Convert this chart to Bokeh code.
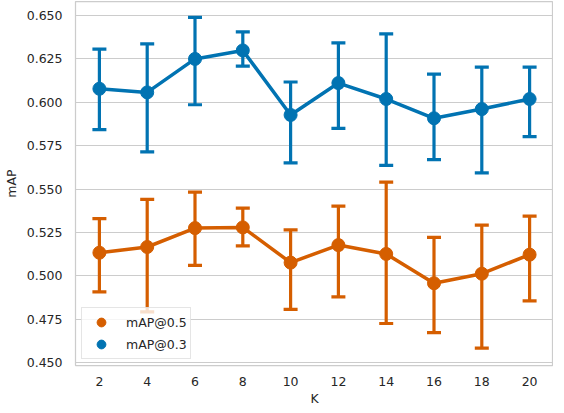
from bokeh.plotting import figure
from bokeh.models import Range1d, FixedTicker, NumeralTickFormatter, Legend, LegendItem
from bokeh.embed import file_html
from bokeh.resources import INLINE

K = [2, 4, 6, 8, 10, 12, 14, 16, 18, 20]

map03 = [0.6078, 0.6057, 0.6250, 0.6299, 0.5927, 0.6111, 0.6019, 0.5908, 0.5961, 0.6019]
map03_lo = [0.5842, 0.5714, 0.5986, 0.6208, 0.5651, 0.5850, 0.5637, 0.5670, 0.5593, 0.5802]
map03_hi = [0.6306, 0.6337, 0.6490, 0.6406, 0.6117, 0.6342, 0.6394, 0.6162, 0.6203, 0.6203]

map05 = [0.5133, 0.5166, 0.5275, 0.5279, 0.5076, 0.5177, 0.5126, 0.4957, 0.5012, 0.5122]
map05_lo = [0.4907, 0.4792, 0.5060, 0.5173, 0.4806, 0.4879, 0.4725, 0.4673, 0.4583, 0.4856]
map05_hi = [0.5330, 0.5440, 0.5482, 0.5390, 0.5265, 0.5402, 0.5540, 0.5221, 0.5292, 0.5344]

y_ticks = [0.450, 0.475, 0.500, 0.525, 0.550, 0.575, 0.600, 0.625, 0.650]

BLUE = "#0173b2"
ORANGE = "#d55e00"
TEXT = "#262626"
GRID = "#cccccc"
FONT = "DejaVu Sans"

xs = list(range(len(K)))

p = figure(frame_width=478, frame_height=364, output_backend="svg", toolbar_location=None,
           x_range=Range1d(-0.5, len(K) - 0.5), y_range=Range1d(0.4483, 0.6581),
           min_border_left=69, min_border_right=0, min_border_top=1, min_border_bottom=0)

p.background_fill_color = "white"
p.border_fill_color = "white"
p.outline_line_color = GRID
p.outline_line_width = 1.25

p.xgrid.visible = False
p.ygrid.grid_line_color = GRID
p.ygrid.grid_line_width = 1

p.xaxis.ticker = FixedTicker(ticks=xs)
p.xaxis.major_label_overrides = {i: str(k) for i, k in enumerate(K)}
p.yaxis.ticker = FixedTicker(ticks=y_ticks)
p.yaxis.formatter = NumeralTickFormatter(format="0.000")

for ax in (p.xaxis[0], p.yaxis[0]):
    ax.axis_line_color = None
    ax.major_tick_line_color = None
    ax.minor_tick_line_color = None
    ax.major_tick_out = 0
    ax.major_tick_in = 0
    ax.minor_tick_out = 0
    ax.minor_tick_in = 0
    ax.major_label_text_font = FONT
    ax.major_label_text_font_size = "12.5px"
    ax.major_label_text_color = TEXT
    ax.axis_label_text_font = FONT
    ax.axis_label_text_font_size = "12.5px"
    ax.axis_label_text_font_style = "normal"
    ax.axis_label_text_color = TEXT

p.xaxis.axis_label = "K"
p.yaxis.axis_label = "mAP"
p.xaxis.major_label_standoff = 11
p.yaxis.major_label_standoff = 13
p.xaxis.axis_label_standoff = 2
p.yaxis.axis_label_standoff = 5

renderers = {}
for name, vals, lo, hi, col in [("mAP@0.5", map05, map05_lo, map05_hi, ORANGE),
                                 ("mAP@0.3", map03, map03_lo, map03_hi, BLUE)]:
    p.segment(x0=xs, y0=lo, x1=xs, y1=hi, line_color=col, line_width=3.2)
    p.scatter(x=xs, y=lo, marker="dash", size=14, line_color=col, line_width=3.2)
    p.scatter(x=xs, y=hi, marker="dash", size=14, line_color=col, line_width=3.2)
    p.line(x=xs, y=vals, line_color=col, line_width=3.5)
    r = p.scatter(x=xs, y=vals, marker="circle", size=13, fill_color=col, line_color=col)
    renderers[name] = r

legend = Legend(items=[LegendItem(label="mAP@0.5", renderers=[renderers["mAP@0.5"]]),
                       LegendItem(label="mAP@0.3", renderers=[renderers["mAP@0.3"]])],
                location="bottom_left")
legend.margin = 6
legend.padding = 3
legend.spacing = 0
legend.glyph_width = 32
legend.glyph_height = 22
legend.label_standoff = 9
legend.label_text_font = FONT
legend.label_text_font_size = "12.5px"
legend.label_text_color = TEXT
legend.border_line_color = GRID
legend.border_line_width = 1
legend.background_fill_color = "white"
legend.background_fill_alpha = 0.8
p.add_layout(legend, "center")

open("out.html", "w").write(file_html(p, INLINE))
